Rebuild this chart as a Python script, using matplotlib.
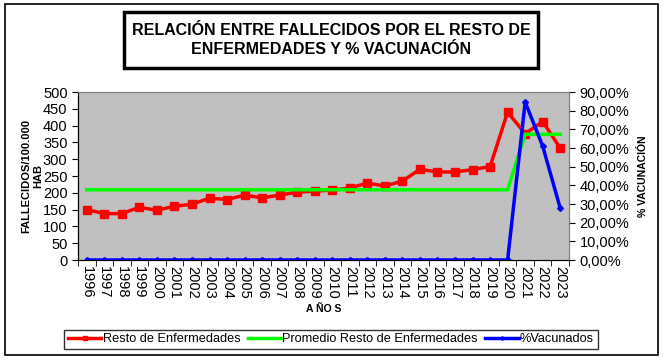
import matplotlib
matplotlib.use("Agg")
from matplotlib import pyplot as plt
from matplotlib.patches import Rectangle
from matplotlib.ticker import FuncFormatter, MultipleLocator

plt.rcParams['font.family'] = ['Liberation Sans', 'DejaVu Sans']

# datos
anios = [str(a) for a in range(1996, 2024)]
resto = [150, 138, 138, 157, 148, 160, 166, 184, 180, 193, 185, 193, 202, 205,
         208, 214, 229, 220, 235, 270, 262, 262, 269, 278, 440, 376, 412, 333]
promedio = [209] * 25 + [374, 374, 374]
vacunados = [0] * 25 + [84.6, 61.0, 27.8]

W, H = 665, 361
fig = plt.figure(figsize=(W / 100, H / 100), dpi=100)

# borde del area del grafico
fig.add_artist(Rectangle((5 / W, 1 - 355 / H), 653 / W, 351 / H, transform=fig.transFigure,
                         fill=False, lw=1.2, ec='black'))

ax = fig.add_axes([78 / W, 1 - 260 / H, 491 / W, 168 / H])
ax.set_facecolor('#c0c0c0')
x = list(range(len(anios)))

l1, = ax.plot(x, resto, color='red', lw=2.5, marker='s', ms=6, label='Resto de Enfermedades')
l2, = ax.plot(x, promedio, color='#00ff00', lw=2.5, label='Promedio Resto de Enfermedades')
ax.set_xlim(-0.5, len(anios) - 0.5)
ax.set_ylim(0, 500)
ax.yaxis.set_major_locator(MultipleLocator(50))
ax.tick_params(axis='y', labelsize=10.5, length=4, direction='out')

ax2 = ax.twinx()
l3, = ax2.plot(x, vacunados, color='#0000ff', lw=2.5, marker='D', ms=3, label='%Vacunados')
ax2.set_ylim(0, 90)
ax2.yaxis.set_major_locator(MultipleLocator(10))
ax2.yaxis.set_major_formatter(FuncFormatter(lambda v, p: ('%.2f%%' % v).replace('.', ',')))
ax2.tick_params(axis='y', labelsize=10.5, length=4, direction='out')
ax2.set_xlim(-0.5, len(anios) - 0.5)

ax.set_xticks(x)
ax.set_xticklabels(anios, rotation=-90, fontsize=10.5)
ax.set_xticks([i - 0.5 for i in range(len(anios) + 1)], minor=True)
ax.tick_params(axis='x', which='major', length=0, pad=4)
ax.tick_params(axis='x', which='minor', length=4)

for a in (ax, ax2):
    a.spines['top'].set_color('#808080')
    a.spines['right'].set_color('#808080')
    a.spines['left'].set_color('black')
    a.spines['bottom'].set_color('black')

ax.set_ylabel('FALLECIDOS/100.000\nHAB', fontsize=8, fontweight='bold', labelpad=0)
ax2.set_ylabel('% VACUNACIÓN', fontsize=7.5, fontweight='bold', labelpad=6)
ax.set_xlabel('A ÑO S', fontsize=7.5, fontweight='bold', labelpad=4)

# titulo en caja
fig.text(331 / W, 1 - 40 / H, 'RELACIÓN ENTRE FALLECIDOS POR EL RESTO DE\nENFERMEDADES Y % VACUNACIÓN',
         ha='center', va='center', fontsize=11.5, fontweight='bold', linespacing=1.35)
fig.add_artist(Rectangle((124 / W, 1 - 68 / H), 414 / W, 56 / H, transform=fig.transFigure,
                         fill=False, lw=2.5, ec='black'))

leg = fig.legend(handles=[l1, l2, l3], loc='center', bbox_to_anchor=(331 / W, 1 - 339.5 / H),
                 ncol=3, fontsize=9.2, frameon=True, fancybox=False, edgecolor='black',
                 handlelength=2.6, handletextpad=0.1, columnspacing=0.6, borderpad=0.3,
                 borderaxespad=0, markerscale=0.6)
leg.get_frame().set_linewidth(1.0)

fig.savefig('out.png', dpi=100)
